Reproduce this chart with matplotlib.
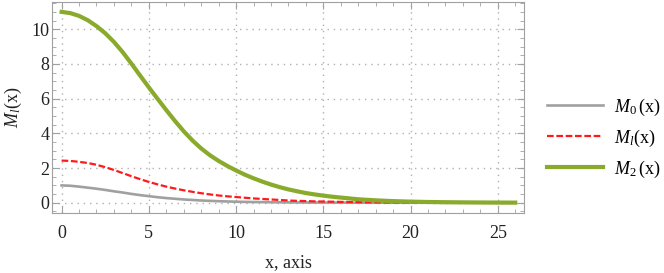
import matplotlib.pyplot as plt
from matplotlib.ticker import MultipleLocator

plt.rcParams['font.family'] = 'Liberation Serif'
plt.rcParams['mathtext.fontset'] = 'custom'
plt.rcParams['mathtext.rm'] = 'Liberation Serif'
plt.rcParams['mathtext.it'] = 'Liberation Serif:italic'

# values
x = [0, 0.5, 1, 1.5, 2, 2.5, 3, 3.5, 4, 4.5, 5, 5.5, 6, 6.5, 7, 7.5, 8,
     8.5, 9, 9.5, 10, 10.5, 11, 11.5, 12, 12.5, 13, 13.5, 14, 14.5, 15,
     15.5, 16, 17, 18, 19, 20, 21, 22, 23, 24, 25, 26]
m0 = [1.0, 0.98, 0.93, 0.87, 0.81, 0.74, 0.66, 0.59, 0.51, 0.44, 0.38,
      0.32, 0.27, 0.23, 0.19, 0.16, 0.13, 0.11, 0.09, 0.075, 0.06,
      0.05, 0.042, 0.036, 0.03, 0.025, 0.02, 0.017, 0.014, 0.012, 0.01,
      0.008, 0.007, 0.005, 0.003, 0.002, 0.001, 0.001, 0.0, 0.0, 0.0,
      0.0, 0.0]
ml = [2.43, 2.41, 2.36, 2.29, 2.19, 2.05, 1.89, 1.71, 1.53, 1.36, 1.2,
      1.06, 0.93, 0.82, 0.72, 0.63, 0.55, 0.48, 0.42, 0.37, 0.33,
      0.29, 0.25, 0.22, 0.19, 0.16, 0.13, 0.11, 0.095, 0.08, 0.07,
      0.06, 0.05, 0.036, 0.026, 0.019, 0.014, 0.01, 0.007, 0.005, 0.004,
      0.003, 0.002]
m2 = [11.0, 10.93, 10.77, 10.52, 10.18, 9.77, 9.27, 8.68, 8.02, 7.33, 6.65,
      5.99, 5.34, 4.71, 4.12, 3.59, 3.13, 2.74, 2.41, 2.12, 1.86,
      1.62, 1.41, 1.22, 1.05, 0.9, 0.77, 0.66, 0.56, 0.48, 0.41,
      0.35, 0.30, 0.2, 0.14, 0.095, 0.065, 0.045, 0.032, 0.023, 0.016,
      0.011, 0.008]
labels = [r'$M_0\,\mathrm{(x)}$', r'$M_l\mathrm{(x)}$', r'$M_2\,\mathrm{(x)}$']

fig = plt.figure(figsize=(6.64, 2.73), dpi=100)
ax = fig.add_axes([52/664, 1-213/273, 472/664, 211/273])

ax.plot(x, m0, color='#a0a0a0', lw=1.9, label=labels[0])
ax.plot(x, ml, color='#ff1a1a', lw=1.6, dashes=(3, 1.2), label=labels[1])
ax.plot(x, m2, color='#8aaa2c', lw=3.0, label=labels[2])

ax.set_xlim(-0.55, 26.5)
ax.set_ylim(-0.59, 11.57)
ax.xaxis.set_major_locator(MultipleLocator(5))
ax.xaxis.set_minor_locator(MultipleLocator(1))
ax.yaxis.set_major_locator(MultipleLocator(2))
ax.yaxis.set_minor_locator(MultipleLocator(0.5))
ax.grid(True, which='major', color='#b0b0b0', ls=(0, (1, 3.5)), lw=1.0)

for s in ax.spines.values():
    s.set_color('#a0a0a0')
ax.tick_params(which='both', direction='in', top=True, right=True,
               color='#a0a0a0', labelsize=13, labelcolor='#222222')
ax.tick_params(which='major', length=5)
ax.tick_params(which='minor', length=3)
ax.tick_params(axis='x', pad=9)
ax.tick_params(axis='y', pad=2)

ax.set_xlabel('x, axis', fontsize=13, color='#222222', labelpad=8)
ax.set_ylabel(r'$M_l\mathrm{(x)}$', fontsize=13, color='#222222', labelpad=5)

ax.legend(loc='center left', bbox_to_anchor=(540/664, 135/273),
          bbox_transform=fig.transFigure, frameon=False, fontsize=13,
          handlelength=3.1, handletextpad=0.6, labelspacing=0.55,
          borderaxespad=0)

fig.savefig('out.png', dpi=100)
